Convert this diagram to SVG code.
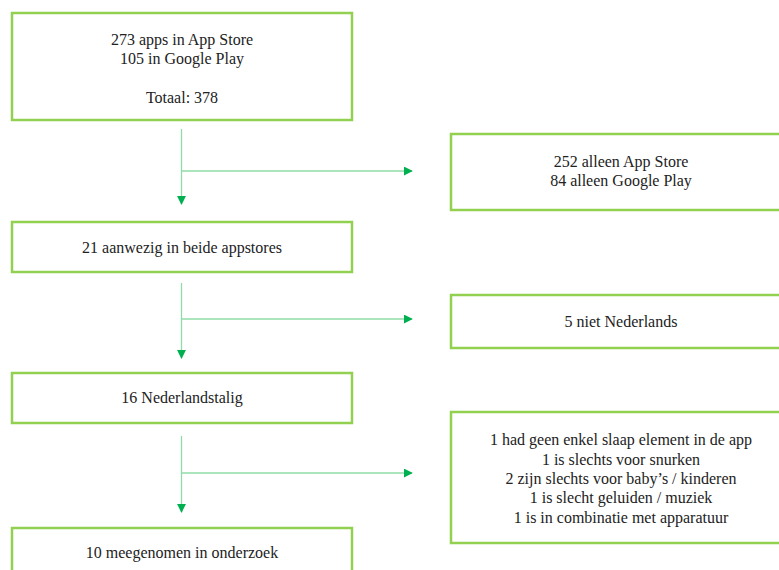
<svg xmlns="http://www.w3.org/2000/svg" width="779" height="570" viewBox="0 0 779 570">
<style>
.box{fill:#fff;stroke:#92d050;stroke-width:2.5}
.t{font-family:"Liberation Serif","Times New Roman",serif;font-size:16px;fill:#222;text-anchor:middle}
.c{fill:none;stroke:#8fdca8;stroke-width:1.3}
</style>
<defs>
<marker id="ah" viewBox="0 0 10 10" refX="9" refY="5" markerWidth="9" markerHeight="9" markerUnits="userSpaceOnUse" orient="auto">
<path d="M0,0 L10,5 L0,10 Z" fill="#00b050"/>
</marker>
</defs>
<rect width="779" height="570" fill="#fff"/>
<g id="n1"><rect class="box" x="12" y="13" width="340" height="107"/>
<text class="t" x="182" y="45">273 apps in App Store</text>
<text class="t" x="182" y="64">105 in Google Play</text>
<text class="t" x="182" y="103">Totaal: 378</text></g>
<g id="n2"><rect class="box" x="451" y="134" width="340" height="76"/>
<text class="t" x="621" y="167">252 alleen App Store</text>
<text class="t" x="621" y="186">84 alleen Google Play</text></g>
<g id="n3"><rect class="box" x="12" y="222" width="340" height="50"/>
<text class="t" x="182" y="253">21 aanwezig in beide appstores</text></g>
<g id="n4"><rect class="box" x="451" y="295" width="340" height="53"/>
<text class="t" x="621" y="327">5 niet Nederlands</text></g>
<g id="n5"><rect class="box" x="12" y="373" width="340" height="50"/>
<text class="t" x="182" y="403">16 Nederlandstalig</text></g>
<g id="n6"><rect class="box" x="451" y="412" width="340" height="131"/>
<text class="t" x="621" y="445">1 had geen enkel slaap element in de app</text>
<text class="t" x="621" y="465">1 is slechts voor snurken</text>
<text class="t" x="621" y="484">2 zijn slechts voor baby’s / kinderen</text>
<text class="t" x="621" y="503">1 is slecht geluiden / muziek</text>
<text class="t" x="621" y="523">1 is in combinatie met apparatuur</text></g>
<g id="n7"><rect class="box" x="12" y="528" width="340" height="60"/>
<text class="t" x="182" y="558">10 meegenomen in onderzoek</text></g>
<g id="connectors">
<path class="c" d="M181.5,129 V204" marker-end="url(#ah)"/>
<path class="c" d="M181.5,171 H412" marker-end="url(#ah)"/>
<path class="c" d="M181.5,283 V358" marker-end="url(#ah)"/>
<path class="c" d="M181.5,319 H412" marker-end="url(#ah)"/>
<path class="c" d="M181.5,436 V512" marker-end="url(#ah)"/>
<path class="c" d="M181.5,473 H412" marker-end="url(#ah)"/>
</g>
</svg>
